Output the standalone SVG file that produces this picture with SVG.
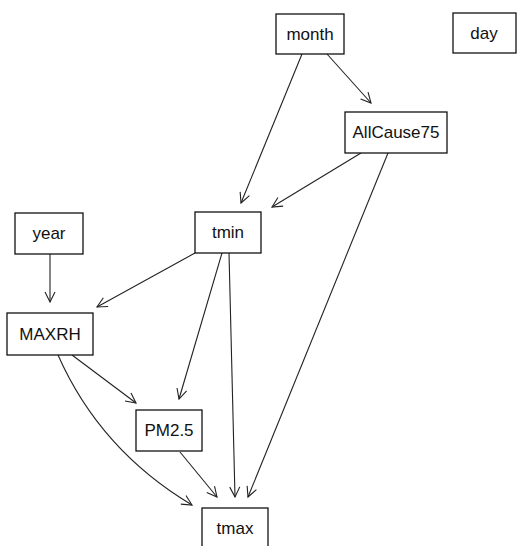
<svg xmlns="http://www.w3.org/2000/svg" width="518" height="546" viewBox="0 0 518 546">
<defs>
<marker id="arr" markerWidth="12" markerHeight="12" refX="11" refY="6" orient="auto" markerUnits="userSpaceOnUse">
<path d="M1,1 L11,6 L1,11" fill="none" stroke="#222" stroke-width="1.1"/>
</marker>
</defs>
<style>
.box{fill:#fff;stroke:#111;stroke-width:1.3}
.lbl{font-family:"Liberation Sans",Arial,sans-serif;font-size:17px;fill:#111;text-anchor:middle}
.edge{fill:none;stroke:#222;stroke-width:1.1;marker-end:url(#arr)}
</style>
<rect width="518" height="546" fill="#fff"/>
<g id="connectors">
<path class="edge" d="M327,54 L371,103"/>
<path class="edge" d="M302,54 L241,203"/>
<path class="edge" d="M361,153 L272,207"/>
<path class="edge" d="M388,153 L248,497"/>
<path class="edge" d="M50,254 L50,302"/>
<path class="edge" d="M195,253 L97,307"/>
<path class="edge" d="M222,253 L179,399"/>
<path class="edge" d="M229,253 L235,497"/>
<path class="edge" d="M72,355 L136,403"/>
<path class="edge" d="M58,355 Q100,450 192,505"/>
<path class="edge" d="M180,452 L217,497"/>
</g>
<g id="month"><rect class="box" x="276" y="14" width="68" height="40"/><text class="lbl" x="310" y="40">month</text></g>
<g id="day"><rect class="box" x="453" y="13" width="63" height="40"/><text class="lbl" x="484" y="39">day</text></g>
<g id="AllCause75"><rect class="box" x="345" y="112" width="102" height="41"/><text class="lbl" x="396" y="138">AllCause75</text></g>
<g id="year"><rect class="box" x="15" y="213" width="68" height="41"/><text class="lbl" x="49" y="239">year</text></g>
<g id="tmin"><rect class="box" x="195" y="212" width="66" height="41"/><text class="lbl" x="228" y="238">tmin</text></g>
<g id="MAXRH"><rect class="box" x="7" y="313" width="86" height="42"/><text class="lbl" x="50" y="340">MAXRH</text></g>
<g id="PM2.5"><rect class="box" x="136" y="410" width="66" height="41"/><text class="lbl" x="169" y="436">PM2.5</text></g>
<g id="tmax"><rect class="box" x="202" y="508" width="66" height="42"/><text class="lbl" x="235" y="534">tmax</text></g>
</svg>
